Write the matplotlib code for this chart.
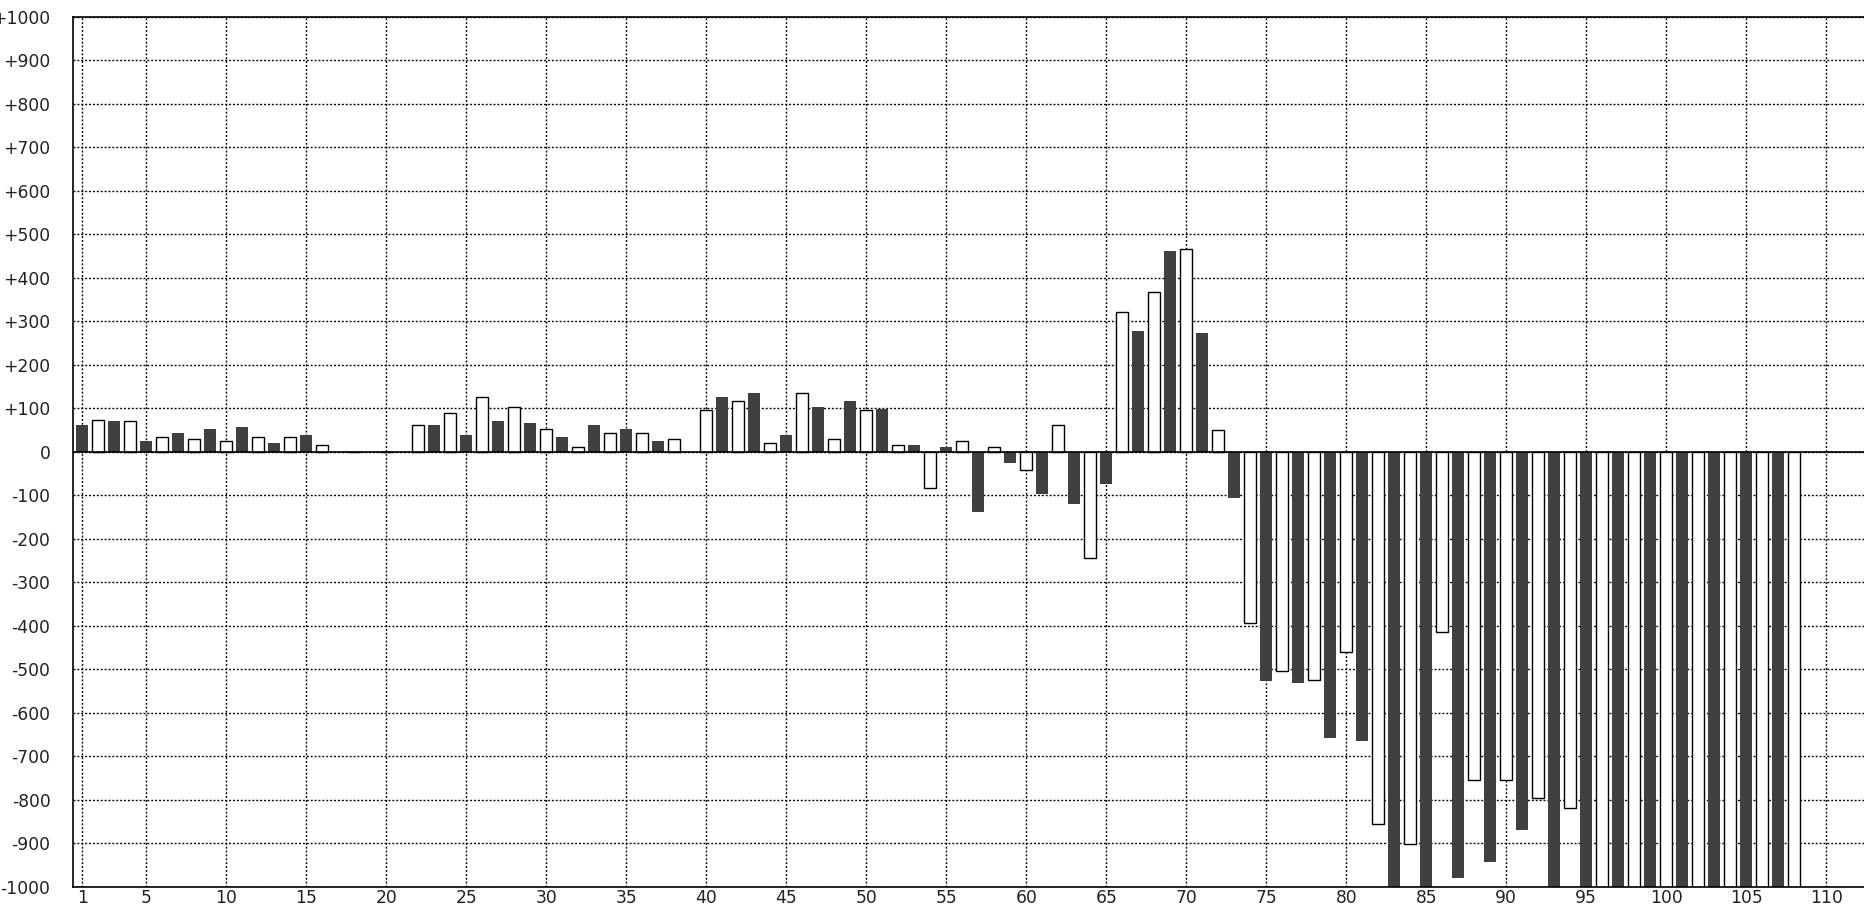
import numpy as np
import matplotlib
matplotlib.use("Agg")
import matplotlib.pyplot as plt
from matplotlib.ticker import FuncFormatter

# dark bars sit on odd positions, white bars on even positions
dark_x = list(range(1, 108, 2))
dark_vals = [62, 71, 25, 44, 53, 57, 21, 39, 0, 0, 0,
             62, 39, 71, 66, 34, 62, 53, 25, 0,
             126, 136, 39, 103, 117, 99, 16, 11,
             -139, -25, -98, -121, -75, 278, 462, 274, -107,
             -526, -531, -659, -664, -1000, -1000, -981, -944, -870, -1000, -1000,
             -1000, -1000, -1000, -1000, -1000, -1000]

white_x = list(range(2, 109, 2))
white_vals = [74, 70, 33, 29, 25, 33, 33, 15, 0, 0,
              61, 89, 126, 103, 52, 10, 43, 43, 29,
              97, 116, 19, 135, 29, 97, 15, -83, 24,
              10, -42, 61, -244, 322, 368, 465, 51,
              -393, -503, -524, -461, -855, -901, -414, -754, -754, -795, -818,
              -1000, -1000, -1000, -1000, -1000, -1000, -1000]

x_ticks = [1] + list(range(5, 111, 5))
y_ticks = list(range(-1000, 1001, 100))


def fmt_y(v, pos):
    v = int(round(v))
    if v > 0:
        return "+%d" % v
    if v == 0:
        return "0"
    return "-%d" % abs(v)


fig = plt.figure(figsize=(18.64, 9.08), dpi=100)
ax = fig.add_axes([0.039, 0.0235, 0.961, 0.958])

ax.bar(dark_x, dark_vals, width=0.75, color="#404040", linewidth=0, zorder=2)
ax.bar(white_x, white_vals, width=0.75, color="white", edgecolor="black", linewidth=1.0, zorder=2)
ax.axhline(0, color="black", linewidth=1.2, zorder=3)

ax.set_xlim(0.4, 112.36)
ax.set_ylim(-1000, 1000)
ax.set_xticks(x_ticks)
ax.set_yticks(y_ticks)
ax.yaxis.set_major_formatter(FuncFormatter(fmt_y))

ax.set_axisbelow(True)
ax.grid(True, color="black", linewidth=1.0, linestyle=(0, (1.4, 1.4)))
ax.tick_params(axis="y", length=0, pad=16, labelsize=12.3, labelcolor="#222222")
ax.tick_params(axis="x", length=0, pad=2, labelsize=12.3, labelcolor="#222222")

for s in ["left", "top", "bottom"]:
    ax.spines[s].set_linewidth(1.2)
ax.spines["right"].set_visible(False)

plt.savefig("out.png", dpi=100)
